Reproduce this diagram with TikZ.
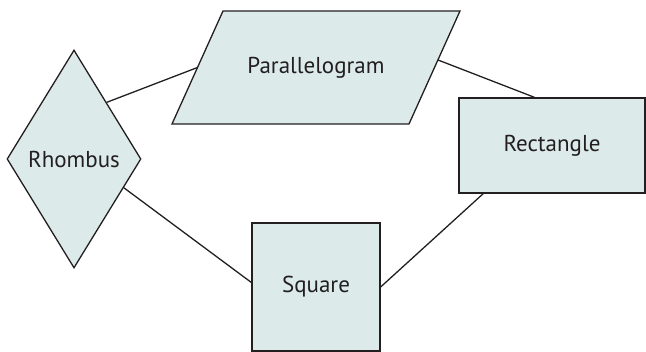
\documentclass[tikz,border=0pt]{standalone}
\usepackage{fontspec}
\setmainfont{PT Sans}
\usetikzlibrary{shapes.geometric}
\definecolor{shapefill}{RGB}{220,235,233}
\definecolor{ink}{RGB}{35,31,32}
\tikzset{
  shapebox/.style={draw=ink, fill=shapefill, line width=1.3pt, inner sep=0pt,
    text=ink, font=\fontsize{23}{27}\selectfont},
  shapeline/.style={draw=ink, fill=shapefill, line width=1.3pt, line join=miter},
  label/.style={text=ink, font=\fontsize{23}{27}\selectfont, inner sep=0pt},
  link/.style={draw=ink, line width=1.3pt}
}
\begin{document}
\begin{tikzpicture}[x=1pt,y=-1pt]
\useasboundingbox (0,0) rectangle (646,352);
\node[shapebox, shape=diamond, minimum width=134pt, minimum height=218pt] (rh) at (74,159) {Rhombus};
\draw[shapeline] (223,11) -- (460,11) -- (409,124) -- (172,124) -- cycle;
\node[label] (par) at (316,67.5) {Parallelogram};
\coordinate (parL) at (197.5,67.5);
\coordinate (parR) at (438,60);
\node[shapebox, shape=rectangle, minimum width=186pt, minimum height=95pt] (rect) at (552,145.5) {Rectangle};
\node[shapebox, shape=rectangle, minimum width=128pt, minimum height=128pt] (sq) at (316,287) {Square};
\draw[link] (rh.60) -- (parL);
\draw[link] (parR) -- (rect.110);
\draw[link] (rh.-30) -- (sq.176);
\draw[link] (sq.east) -- (rect.-145);
\end{tikzpicture}
\end{document}
